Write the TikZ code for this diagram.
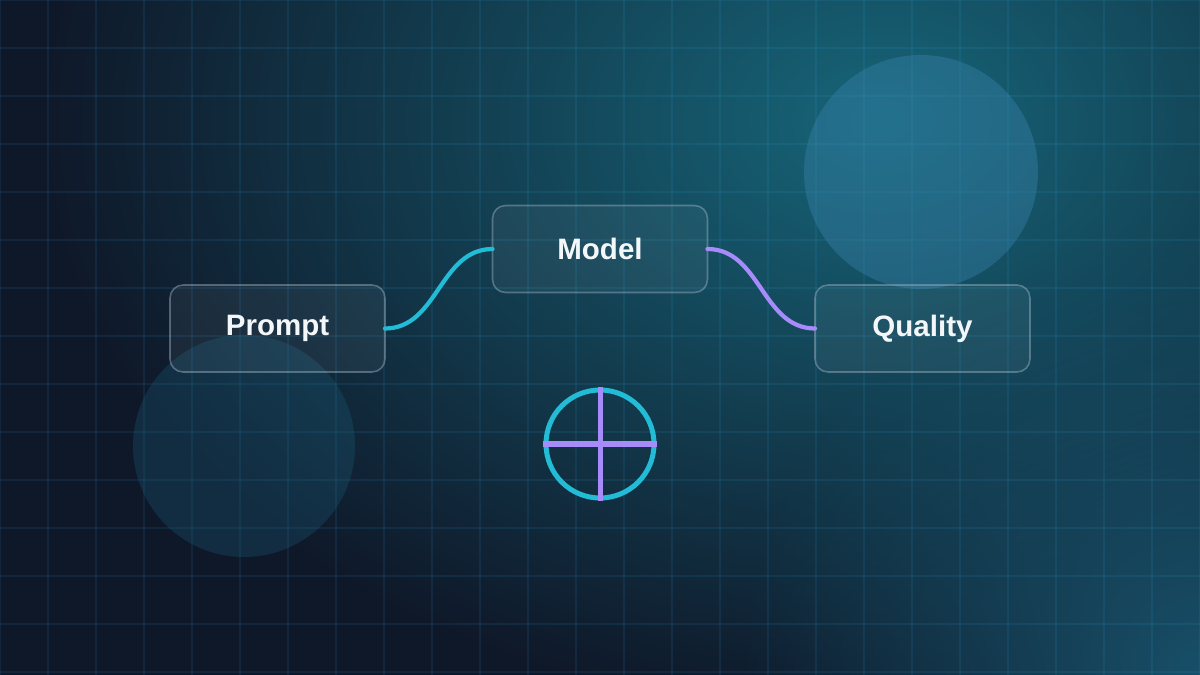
\documentclass[tikz,border=0pt]{standalone}
\usepackage{fontspec}
\setmainfont{Liberation Sans}
\usetikzlibrary{fadings}
\definecolor{bgbase}{HTML}{0F1829}
\definecolor{glowteal}{HTML}{176579}
\definecolor{glowlow}{HTML}{185069}
\definecolor{gridcol}{HTML}{38BDF8}
\definecolor{cyanc}{HTML}{22BCD6}
\definecolor{purplec}{HTML}{A78BFA}
\definecolor{bubbleA}{HTML}{3A86B0}
\definecolor{bubbleB}{HTML}{1E6A8A}
\definecolor{boxborder}{HTML}{A0B4C4}
\definecolor{textc}{HTML}{F4F7FA}
\tikzfading[name=glowfade, inner color=transparent!0, outer color=transparent!100]
\tikzset{
  gridline/.style={draw=gridcol, draw opacity=0.09, line width=0.6pt},
  card/.style={rectangle, rounded corners=0.26cm, draw=boxborder, draw opacity=0.45,
    fill=white, fill opacity=0.05, text opacity=1, line width=0.9pt,
    minimum width=4.3cm, minimum height=1.74cm, outer sep=0pt,
    text=textc, font=\fontsize{16.8pt}{19pt}\selectfont\bfseries},
  linkcyan/.style={draw=cyanc, line width=2.4pt, line cap=round},
  linkpurple/.style={draw=purplec, line width=2.4pt, line cap=round},
}
\begin{document}
\begin{tikzpicture}[x=0.02cm,y=-0.02cm]
\useasboundingbox (0,0) rectangle (1200,675);
\clip (0,0) rectangle (1200,675);
% background
\fill[bgbase] (0,0) rectangle (1200,675);
\fill[glowteal, path fading=glowfade] (880,120) ellipse [x radius=840, y radius=600];
\fill[glowlow, path fading=glowfade] (1200,675) circle (460);
% grid
\foreach \i in {0,...,25} \draw[gridline] (\i*48,0) -- (\i*48,675);
\foreach \j in {0,...,14} \draw[gridline] (0,\j*48) -- (1200,\j*48);
% decorative bubbles
\fill[bubbleA, fill opacity=0.38] (921,172) circle (117);
\fill[bubbleB, fill opacity=0.25] (244,446) circle (111);
% nodes
\node[card] (prompt) at (277.5,328.5) {Prompt};
\node[card] (model) at (600,249) {Model};
\node[card] (quality) at (922.5,328.5) {Quality};
% connectors
\draw[linkcyan] (prompt.east) .. controls +(53,0) and +(-53,0) .. (model.west);
\draw[linkpurple] (model.east) .. controls +(53,0) and +(-53,0) .. (quality.west);
% crosshair
\draw[cyanc, line width=2.85pt] (600,444) circle (54);
\draw[purplec, line width=2.85pt] (543,444) -- (657,444);
\draw[purplec, line width=2.85pt] (600,387) -- (600,501);
\end{tikzpicture}
\end{document}
